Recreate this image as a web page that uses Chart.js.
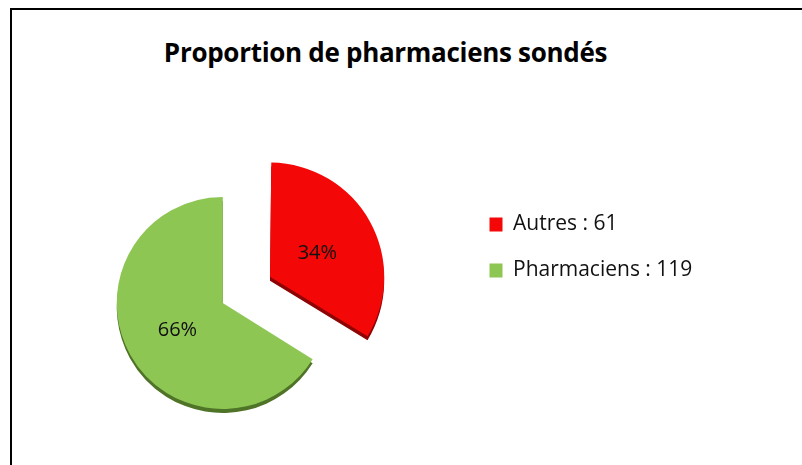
<!DOCTYPE html>
<html>
<head>
<meta charset="utf-8">
<script src="https://cdn.jsdelivr.net/npm/chart.js@4/dist/chart.umd.min.js"></script>
<style>
  html, body { margin: 0; padding: 0; background: #fff; overflow: hidden; width: 802px; height: 465px; }
  #frame { position: absolute; left: 10px; top: 8px; width: 820px; height: 480px;
           border-left: 2px solid #000; border-top: 2px solid #000; }
  #title { position: absolute; left: 0; top: 37px; width: 771px; text-align: center;
           font: bold 26px "Open Sans", sans-serif; line-height: 31px; color: #000; white-space: nowrap;
           letter-spacing: -0.3px; }
  #wrap { position: absolute; left: -19px; top: 0; width: 821px; height: 465px; }
</style>
</head>
<body>
<div id="frame"></div>
<div id="title"></div>
<div id="wrap"><canvas id="c"></canvas></div>
<script>
// ---- data ----
const chartTitle = 'Proportion de pharmaciens sondés';
const categories = ['Autres', 'Pharmaciens'];
const counts = [61, 119];
const percentLabels = ['34%', '66%'];
const sliceColors = ['#f40707', '#8dc653'];
const edgeColors = ['#8e0404', '#4f7327'];
const explode = [216, 0];

document.getElementById('title').textContent = chartTitle;

// 3D-like rim under each slice, drawn with the library's own arc element
const rimPlugin = {
  id: 'rim',
  beforeDatasetsDraw(chart) {
    const ctx = chart.ctx;
    chart.getDatasetMeta(0).data.forEach((arc, i) => {
      const fake = Object.create(arc);
      fake.options = Object.assign({}, arc.options, {backgroundColor: edgeColors[i], borderColor: edgeColors[i]});
      ctx.save();
      ctx.translate(0, 4);
      fake.draw(ctx);
      ctx.restore();
    });
  }
};

// percentage labels inside the slices
const pctPlugin = {
  id: 'pct',
  afterDatasetsDraw(chart) {
    const ctx = chart.ctx;
    ctx.save();
    ctx.font = '20px "Open Sans", sans-serif';
    ctx.fillStyle = '#111';
    ctx.textAlign = 'center';
    ctx.textBaseline = 'middle';
    chart.getDatasetMeta(0).data.forEach((arc, i) => {
      const p = arc.getProps(['x', 'y', 'startAngle', 'endAngle', 'outerRadius'], true);
      const mid = (p.startAngle + p.endAngle) / 2;
      const d = (arc.options.offset || 0) / 4 + p.outerRadius * 0.5;
      ctx.fillText(percentLabels[i], p.x + Math.cos(mid) * d + 1, p.y + Math.sin(mid) * d + 2);
    });
    ctx.restore();
  }
};

const chart = new Chart(document.getElementById('c'), {
  type: 'pie',
  data: {
    labels: categories.map((c, i) => c + ' : ' + counts[i]),
    datasets: [{
      data: counts,
      backgroundColor: sliceColors,
      borderWidth: 0,
      offset: explode,
      hoverOffset: 0
    }]
  },
  options: {
    responsive: true,
    maintainAspectRatio: false,
    animation: false,
    radius: 106,
    layout: { padding: { left: 0, right: 97, top: 189, bottom: 48 } },
    plugins: {
      tooltip: { enabled: false },
      title: { display: false },
      legend: {
        position: 'right',
        align: 'start',
        labels: {
          boxWidth: 13,
          boxHeight: 14,
          padding: 25,
          color: '#111',
          font: { family: '"Open Sans", sans-serif', size: 21 }
        }
      }
    }
  },
  plugins: [rimPlugin, pctPlugin]
});

// place the legend where the reference has it (items start at x=508.5 in canvas coords)
const delta = chart.legend.left - 483.5;
chart.options.layout.padding.right += delta;
chart.update('none');
</script>
</body>
</html>
